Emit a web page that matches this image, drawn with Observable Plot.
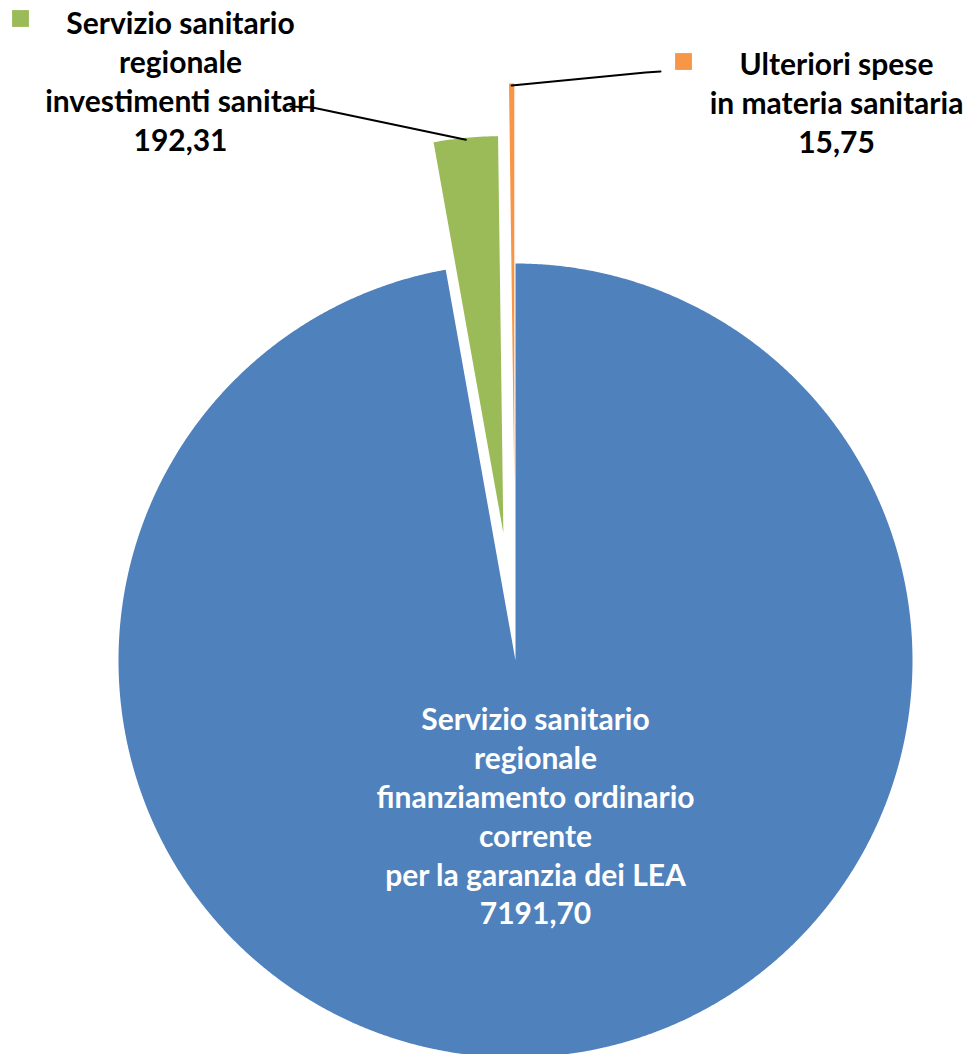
<!DOCTYPE html>
<html><head><meta charset="utf-8">
<script src="https://cdn.jsdelivr.net/npm/d3@7"></script>
<script src="https://cdn.jsdelivr.net/npm/@observablehq/plot@0.6"></script>
<style>html,body{margin:0;padding:0;background:#fff}</style>
</head><body><div id="chart"></div>
<script>
// ---- data ----
const categories = [
  "Servizio sanitario regionale finanziamento ordinario corrente per la garanzia dei LEA",
  "Servizio sanitario regionale investimenti sanitari",
  "Ulteriori spese in materia sanitaria"
];
const values = [7191.70, 192.31, 15.75];
const valueLabels = ["7191,70", "192,31", "15,75"];
const labelLines = [
  ["Servizio sanitario", "regionale", "finanziamento ordinario", "corrente", "per la garanzia dei LEA"],
  ["Servizio sanitario", "regionale", "investimenti sanitari"],
  ["Ulteriori spese", "in materia sanitaria"]
];
const colors = ["#4F81BD", "#9BBB59", "#F79646"];

// ---- layout (pixels) ----
const W = 968, H = 1054;
const cx = 515, cy = 660, R = 397;
const explode = [0, 128, 180];
const labelAnchor = [[535, 814.5], [180, 79.5], [836, 101]];
const labelFill = ["white", "black", "black"];
const leaderBends = [null, [[312, 107], [290, 106]], [[645, 72], [660, 71]]];
const keyPos = [null, [20, 18], [683, 61]];
const fontSize = 30, lineH = 38.8;

const arcs = d3.pie().sort(null).startAngle(0).endAngle(2 * Math.PI)(values);
const slices = arcs.map((a, i) => {
  const m = (a.startAngle + a.endAngle) / 2;
  const ox = cx + explode[i] * Math.sin(m), oy = cy - explode[i] * Math.cos(m);
  const n = Math.max(4, Math.ceil((a.endAngle - a.startAngle) / (Math.PI / 720)));
  const pts = [{x: ox, y: oy}];
  for (let k = 0; k <= n; k++) {
    const t = a.startAngle + (a.endAngle - a.startAngle) * k / n;
    pts.push({x: ox + R * Math.sin(t), y: oy - R * Math.cos(t)});
  }
  pts.push({x: ox, y: oy});
  return {pts, ox, oy, m, i};
});

const marks = [];
slices.forEach(s => {
  marks.push(Plot.line(s.pts, {x: "x", y: "y", fill: colors[s.i], stroke: "none", curve: "linear"}));
});
// leaders
slices.forEach(s => {
  if (!leaderBends[s.i]) return;
  const start = {x: s.ox + R * 0.995 * Math.sin(s.m), y: s.oy - R * 0.995 * Math.cos(s.m)};
  const pts = [start, ...leaderBends[s.i].map(([x, y]) => ({x, y}))];
  marks.push(Plot.line(pts, {x: "x", y: "y", stroke: "black", strokeWidth: 2}));
});
// legend keys
const keys = [];
categories.forEach((c, i) => { if (keyPos[i]) keys.push({x: keyPos[i][0], y: keyPos[i][1], c: colors[i]}); });
marks.push(Plot.dot(keys, {x: "x", y: "y", symbol: "square", r: 9.5, fill: "c", stroke: "none"}));
// labels
const labels = categories.map((c, i) => ({
  x: labelAnchor[i][0], y: labelAnchor[i][1],
  text: [...labelLines[i], valueLabels[i]].join("\n"), fill: labelFill[i]
}));
marks.push(Plot.text(labels, {
  x: "x", y: "y", text: "text", fill: "fill", lineAnchor: "middle", textAnchor: "middle",
  lineHeight: lineH / fontSize, fontSize, fontWeight: "bold", fontFamily: "Lato, 'Open Sans', sans-serif"
}));

const chart = Plot.plot({
  width: W, height: H, margin: 0,
  x: {type: "linear", domain: [0, W], range: [0, W], axis: null},
  y: {type: "linear", domain: [0, H], range: [0, H], axis: null},
  color: {type: "identity"},
  style: {background: "white"},
  marks
});
document.getElementById("chart").appendChild(chart);
</script>
</body></html>
